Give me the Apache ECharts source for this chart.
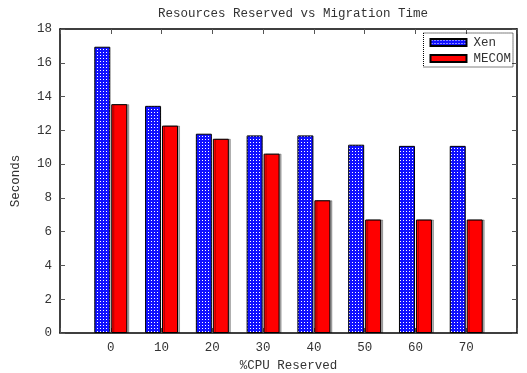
<!DOCTYPE html>
<html><head><meta charset="utf-8">
<script src="https://cdn.jsdelivr.net/npm/echarts@6/dist/echarts.min.js"></script>
<style>html,body{margin:0;padding:0;background:#fff}#c{width:527px;height:373px}</style>
</head><body><div id="c"></div>
<script>
var categories = [0, 10, 20, 30, 40, 50, 60, 70];
var xenValues = [16.95, 13.45, 11.8, 11.7, 11.7, 11.15, 11.08, 11.08];
var mecomValues = [13.55, 12.28, 11.5, 10.62, 7.86, 6.72, 6.72, 6.72];
var yTicks = [0, 2, 4, 6, 8, 10, 12, 14, 16, 18];

function pattern() {
  var c = document.createElement('canvas');
  c.width = 3; c.height = 3;
  var g = c.getContext('2d');
  g.fillStyle = '#1010ff'; g.fillRect(0, 0, 3, 3);
  g.fillStyle = '#ffffff'; g.fillRect(1, 1, 1, 1);
  return c;
}
var font = 'Liberation Mono';
var txt = '#333';
var fs = 12.5;
var chart = echarts.init(document.getElementById('c'), null, {renderer: 'canvas'});
var xCommon = {
  type: 'value', min: -10, max: 80, interval: 10,
  axisLine: {show: true, onZero: false, lineStyle: {color: '#000', width: 1.5}},
  axisTick: {show: true, inside: true, length: 5, lineStyle: {color: '#555'}},
  splitLine: {show: false}
};
var yCommon = {
  type: 'value', min: 0, max: 18, interval: 2,
  axisLine: {show: true, onZero: false, lineStyle: {color: '#000', width: 1.5}},
  axisTick: {show: true, inside: true, length: 5, lineStyle: {color: '#555'}},
  splitLine: {show: false}
};
chart.setOption({
  animation: false,
  title: {text: 'Resources Reserved vs Migration Time', left: 288, textAlign: 'center', top: 2,
    textStyle: {fontFamily: font, fontSize: fs, fontWeight: 'normal', color: txt}},
  grid: {left: 60, right: 10, top: 29, bottom: 40, outerBoundsMode: 'none', containLabel: false},
  legend: {orient: 'vertical', right: 14, top: 33, itemWidth: 36, itemHeight: 7, itemGap: 3,
    icon: 'rect',
    padding: [3, 2, 2, 6], borderColor: '#000', borderWidth: 1, borderType: 'dotted',
    textStyle: {fontFamily: font, fontSize: fs, color: txt, padding: [0, 0, 0, 2]},
    data: ['Xen', 'MECOM']},
  xAxis: [
    Object.assign({}, xCommon, {position: 'bottom', name: '%CPU Reserved', nameLocation: 'middle', nameGap: 24,
      nameTextStyle: {fontFamily: font, fontSize: fs, color: txt},
      axisLabel: {fontFamily: font, fontSize: fs, color: txt, margin: 8,
        formatter: function (v) { return categories.indexOf(v) >= 0 ? String(v) : ''; }}}),
    Object.assign({}, xCommon, {position: 'top', axisLabel: {show: false}})
  ],
  yAxis: [
    Object.assign({}, yCommon, {position: 'left', name: 'Seconds', nameLocation: 'middle', nameGap: 38,
      nameTextStyle: {fontFamily: font, fontSize: fs, color: txt},
      axisLabel: {fontFamily: font, fontSize: fs, color: txt, margin: 8,
        formatter: function (v) { return yTicks.indexOf(v) >= 0 ? String(v) : ''; }}}),
    Object.assign({}, yCommon, {position: 'right', axisLabel: {show: false}})
  ],
  series: [
    {name: 'Xen', type: 'bar', barWidth: 16, barGap: '6%',
      data: categories.map(function (c, i) { return [c, xenValues[i]]; }),
      itemStyle: {color: {image: pattern(), repeat: 'repeat'}, borderColor: '#000', borderWidth: 1}},
    {name: 'MECOM', type: 'bar', barWidth: 16, barGap: '6%',
      data: categories.map(function (c, i) { return [c, mecomValues[i]]; }),
      itemStyle: {color: '#ff0000', borderColor: '#000', borderWidth: 1,
        shadowColor: 'rgba(0,0,0,0.3)', shadowOffsetX: 2, shadowBlur: 0}}
  ]
});
</script></body></html>
